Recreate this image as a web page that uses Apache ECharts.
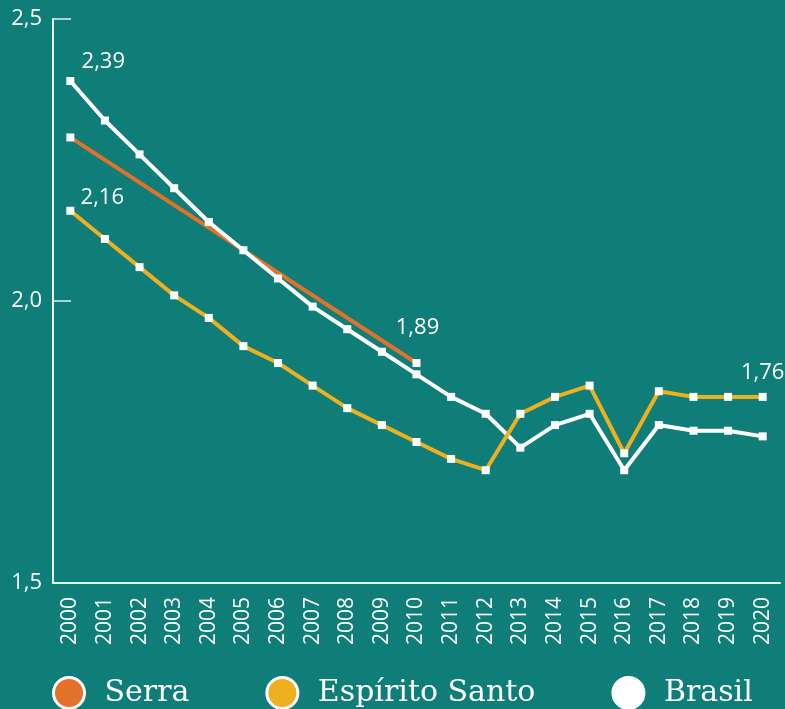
<!DOCTYPE html>
<html>
<head>
<meta charset="utf-8">
<script src="https://cdn.jsdelivr.net/npm/echarts@6/dist/echarts.min.js"></script>
<style>
  html, body { margin: 0; padding: 0; background: #0f7d78; }
  #chart { width: 785px; height: 709px; }
</style>
</head>
<body>
<div id="chart"></div>
<script>
const years = ['2000', '2001', '2002', '2003', '2004', '2005', '2006', '2007', '2008', '2009', '2010',
  '2011', '2012', '2013', '2014', '2015', '2016', '2017', '2018', '2019', '2020'];
const serra = [2.29, null, null, null, null, null, null, null, null, null, 1.89,
  null, null, null, null, null, null, null, null, null, null];
const espiritoSanto = [2.16, 2.11, 2.06, 2.01, 1.97, 1.92, 1.89, 1.85, 1.81, 1.78, 1.75,
  1.72, 1.70, 1.80, 1.83, 1.85, 1.73, 1.84, 1.83, 1.83, 1.83];
const brasil = [2.39, 2.32, 2.26, 2.20, 2.14, 2.09, 2.04, 1.99, 1.95, 1.91, 1.87,
  1.83, 1.80, 1.74, 1.78, 1.80, 1.70, 1.78, 1.77, 1.77, 1.76];
const yTicks = [1.5, 2.0, 2.5];

const fmt = (v) => String(v).replace('.', ',');

// pontos com rótulo: indice -> deslocamento
function withLabels(values, labels) {
  return values.map((v, i) => {
    if (labels[i] && v != null) {
      return {
        value: v,
        label: {
          show: true,
          position: 'top',
          offset: labels[i],
          color: '#fff',
          fontFamily: 'Open Sans',
          fontSize: 22,
          formatter: (p) => fmt(p.value)
        }
      };
    }
    return v;
  });
}

const myChart = echarts.init(document.getElementById('chart'));
const option = {
  animation: false,
  backgroundColor: '#0f7d78',
  grid: {
    left: 53,
    right: 5,
    top: 19,
    bottom: 126
  },
  legend: {
    left: 47,
    top: 671,
    icon: 'circle',
    itemWidth: 61,
    itemHeight: 31,
    itemGap: 76,
    selectedMode: false,
    textStyle: {
      color: '#fff',
      fontFamily: 'DejaVu Serif',
      fontSize: 30
    },
    data: [
      { name: 'Serra', itemStyle: { color: '#e2722a', borderColor: '#fff', borderWidth: 3 } },
      { name: 'Espírito Santo', itemStyle: { color: '#edb021', borderColor: '#fff', borderWidth: 3 } },
      { name: 'Brasil', itemStyle: { color: '#fff', borderColor: '#fff', borderWidth: 3 } }
    ]
  },
  xAxis: {
    type: 'category',
    boundaryGap: true,
    data: years,
    axisLine: { lineStyle: { color: '#e6f0ef', width: 2 } },
    axisTick: { inside: true, length: 13, lineStyle: { color: '#e6f0ef', width: 1.5 } },
    axisLabel: {
      rotate: 90,
      margin: 14,
      color: '#fff',
      fontFamily: 'Open Sans',
      fontSize: 21
    }
  },
  yAxis: {
    type: 'value',
    min: yTicks[0],
    max: yTicks[yTicks.length - 1],
    interval: 0.5,
    splitLine: { show: false },
    axisLine: { show: true, lineStyle: { color: '#e6f0ef', width: 2 } },
    axisTick: { show: true, inside: true, length: 18, lineStyle: { color: '#e6f0ef', width: 1.5 } },
    axisLabel: {
      margin: 11,
      color: '#fff',
      fontFamily: 'Open Sans',
      fontSize: 22,
      padding: [10, 0, 0, 0],
      formatter: (v) => v.toFixed(1).replace('.', ',')
    }
  },
  series: [
    {
      name: 'Serra',
      type: 'line',
      data: withLabels(serra, { 10: [1, -15] }),
      connectNulls: true,
      symbol: 'rect',
      symbolSize: 8,
      itemStyle: { color: '#fff' },
      lineStyle: { color: '#e2722a', width: 4 }
    },
    {
      name: 'Brasil',
      type: 'line',
      data: withLabels(brasil, { 0: [33, 1], 20: [0, -44] }),
      symbol: 'rect',
      symbolSize: 8,
      itemStyle: { color: '#fff' },
      lineStyle: { color: '#fff', width: 4 }
    },
    {
      name: 'Espírito Santo',
      type: 'line',
      data: withLabels(espiritoSanto, { 0: [32, 7] }),
      symbol: 'rect',
      symbolSize: 8,
      itemStyle: { color: '#fff' },
      lineStyle: { color: '#edb021', width: 4 }
    }
  ]
};
myChart.setOption(option);
</script>
</body>
</html>
